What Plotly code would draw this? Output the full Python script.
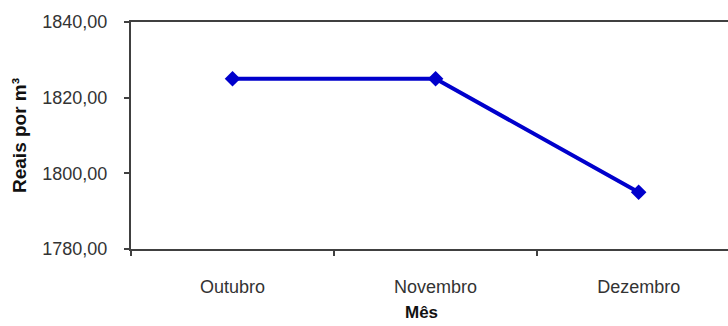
import plotly.graph_objects as go

# Monthly price per cubic metre
meses = ["Outubro", "Novembro", "Dezembro"]
precos = [1825.0, 1825.0, 1795.0]
y_ticks = [1780, 1800, 1820, 1840]

azul = "#0000CC"
eixo = "#404040"
texto = "#333333"

fig = go.Figure()
fig.add_trace(go.Scatter(
    x=meses, y=precos, mode="lines+markers",
    line=dict(color=azul, width=4),
    marker=dict(symbol="diamond", size=12, color=azul),
    hoverinfo="x+y",
))

fig.update_layout(
    width=728, height=326,
    margin=dict(l=131, r=0, t=22, b=77),
    paper_bgcolor="white", plot_bgcolor="white",
    separators=",.",
    showlegend=False,
    font=dict(family="Liberation Sans, Arial, sans-serif", size=18, color=texto),
    xaxis=dict(
        type="category", range=[-0.5, 2.44],
        tickson="boundaries", ticks="outside", ticklen=5, tickwidth=1.5,
        tickcolor=eixo, showline=True, linecolor=eixo, linewidth=2,
        mirror=True, showgrid=False, zeroline=False,
        ticklabelstandoff=20,
        tickfont=dict(size=18, color=texto),
    ),
    yaxis=dict(
        range=[1780, 1840], tickvals=y_ticks, tickformat=".2f",
        ticks="outside", ticklen=5, tickwidth=1.5, tickcolor=eixo,
        showline=True, linecolor=eixo, linewidth=2,
        showgrid=False, zeroline=False,
        ticklabelstandoff=13,
        tickfont=dict(size=18, color=texto),
    ),
    annotations=[
        dict(text="<b>Reais por m³</b>", xref="paper", yref="paper",
             x=-(131 - 19) / 597, y=(249 - 136) / 227,
             xanchor="center", yanchor="middle",
             textangle=-90, showarrow=False,
             font=dict(size=19, color="#111111")),
        dict(text="<b>Mês</b>", xref="paper", yref="paper",
             x=(421 - 131) / 597, y=-(312 - 249) / 227,
             xanchor="center", yanchor="middle", showarrow=False,
             font=dict(size=17, color="#111111")),
    ],
)

fig.write_html("out.html")
